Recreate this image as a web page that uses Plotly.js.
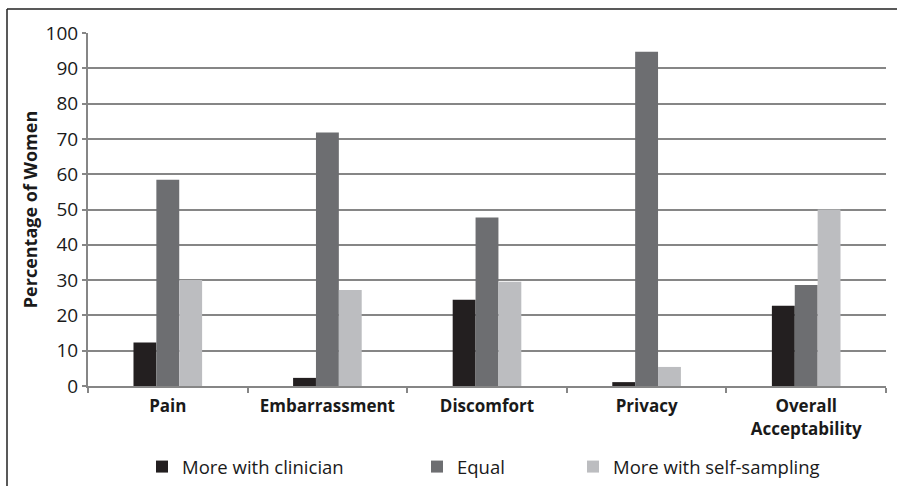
<!DOCTYPE html>
<html>
<head>
<meta charset="utf-8">
<script src="https://cdn.plot.ly/plotly-3.0.1.min.js"></script>
<style>
html,body{margin:0;padding:0;background:#fff;}
#chart{width:897px;height:486px;}
</style>
</head>
<body>
<div id="chart"></div>
<script>
const categories = ["Pain", "Embarrassment", "Discomfort", "Privacy", "Overall<br>Acceptability"];
const seriesNames = ["More with clinician", "Equal", "More with self-sampling"];
const clinician = [12.3, 2.3, 24.4, 1.1, 22.7];
const equal = [58.4, 71.8, 47.7, 94.7, 28.6];
const selfSampling = [30.0, 27.2, 29.5, 5.4, 50.0];
const colors = ["#231f20", "#6d6e71", "#bcbdc0"];
const yTicks = [0, 10, 20, 30, 40, 50, 60, 70, 80, 90, 100];

const FONT = "'Open Sans', Lato, sans-serif";
const vals = [clinician, equal, selfSampling];
const legendNames = ["legend", "legend2", "legend3"];
const traces = vals.map((v, i) => ({
  type: "bar",
  x: categories,
  y: v,
  name: seriesNames[i],
  marker: {color: colors[i], line: {width: 0}},
  legend: legendNames[i],
  hoverinfo: "skip"
}));

const legendBase = {
  orientation: "h",
  xanchor: "left",
  yanchor: "middle",
  yref: "container",
  y: 0.039,
  font: {family: FONT, size: 18.5, color: "#1a1a1a"},
  itemwidth: 30,
  bgcolor: "rgba(0,0,0,0)",
  tracegroupgap: 0
};

const layout = {
  width: 897,
  height: 486,
  margin: {l: 88, r: 11, t: 33, b: 100},
  paper_bgcolor: "#fff",
  plot_bgcolor: "#fff",
  barmode: "group",
  bargap: 0.57,
  bargroupgap: 0,
  showlegend: true,
  legend: Object.assign({}, legendBase, {x: 0.0677}),
  legend2: Object.assign({}, legendBase, {x: 0.4123}),
  legend3: Object.assign({}, legendBase, {x: 0.6078}),
  font: {family: FONT, color: "#1a1a1a"},
  xaxis: {
    type: "category",
    automargin: false,
    showline: true,
    linecolor: "#868686",
    linewidth: 2,
    ticks: "outside",
    tickson: "boundaries",
    ticklen: 5,
    tickcolor: "#868686",
    tickwidth: 2,
    ticklabelstandoff: 4,
    showgrid: false,
    tickfont: {family: FONT, size: 17, color: "#1a1a1a", weight: "bold"},
    fixedrange: true
  },
  yaxis: {
    range: [0, 100],
    automargin: false,
    tickvals: yTicks,
    ticktext: yTicks.map(String),
    showline: true,
    linecolor: "#868686",
    linewidth: 2,
    ticks: "outside",
    ticklen: 4,
    tickcolor: "#868686",
    tickwidth: 2,
    showgrid: true,
    gridcolor: "#868686",
    gridwidth: 2,
    zeroline: false,
    tickfont: {family: FONT, size: 19, color: "#1a1a1a"},
    title: {text: "Percentage of Women", font: {family: FONT, size: 18, color: "#1a1a1a", weight: "bold"}, standoff: 3},
    fixedrange: true
  },
  shapes: [
    {type: "line", xref: "paper", yref: "paper", x0: -0.1015, x1: -0.1015, y0: 1.068, y1: -0.3, line: {color: "#222", width: 1.5}},
    {type: "line", xref: "paper", yref: "paper", x0: -0.1015, x1: 1.02, y0: 1.068, y1: 1.068, line: {color: "#222", width: 1.5}}
  ]
};

Plotly.newPlot("chart", traces, layout, {displayModeBar: false, staticPlot: true});
</script>
</body>
</html>
